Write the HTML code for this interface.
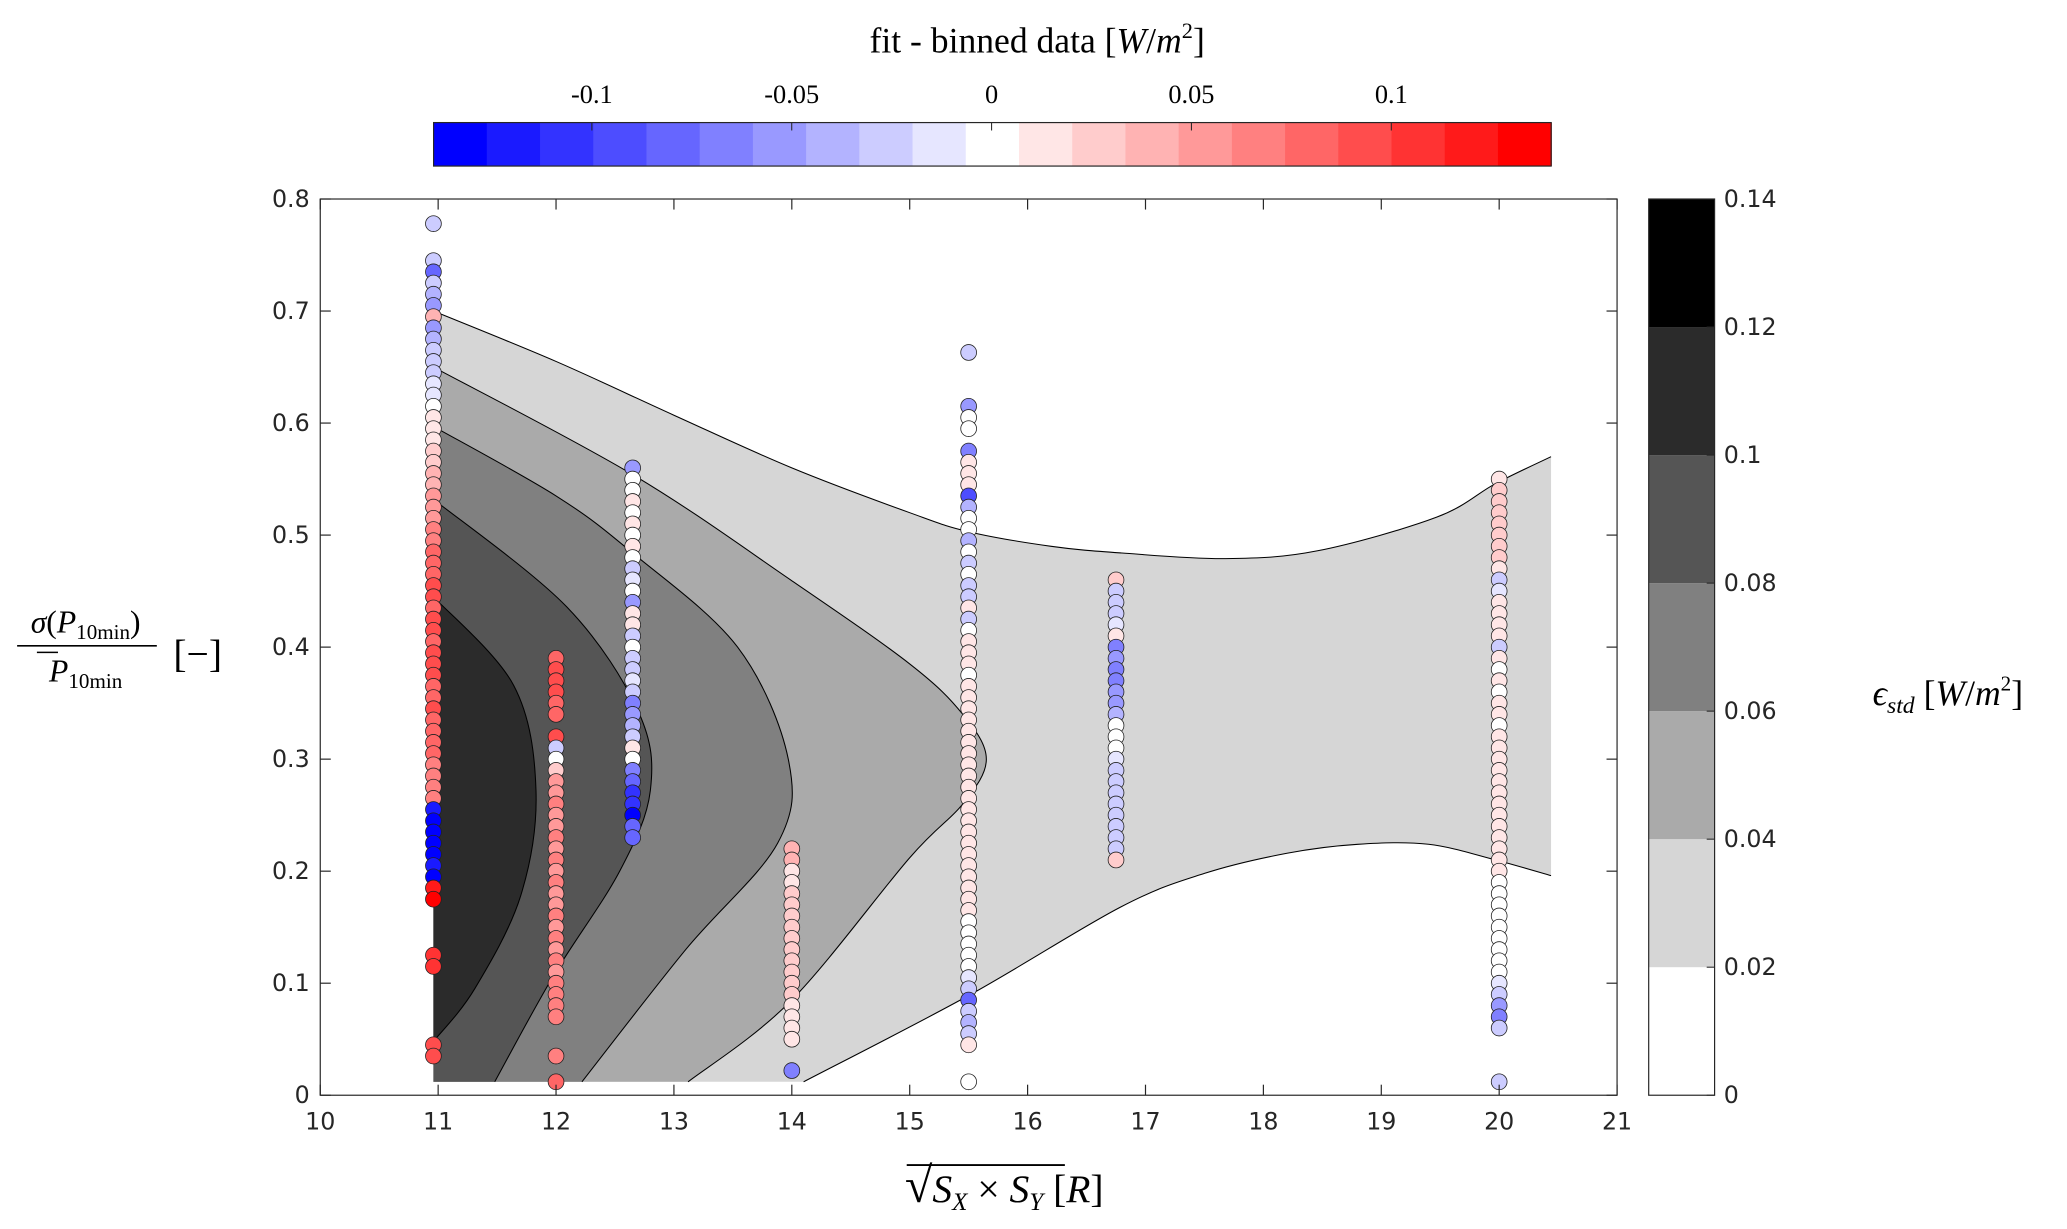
<!DOCTYPE html>
<html><head><meta charset="utf-8"><style>
html,body{margin:0;padding:0;background:#fff;}
svg{display:block;}
.tk{font-family:"DejaVu Sans","Liberation Sans",sans-serif;font-size:18px;fill:#262626;}
.mt{font-family:"Liberation Serif",serif;fill:#000;}
</style></head><body>
<svg id="chart" width="2067" height="1229" viewBox="0 0 1568.4 932.5" preserveAspectRatio="none" xmlns="http://www.w3.org/2000/svg">
<g id="contours"></g>
<g id="dots"></g>
<g id="axes"></g>
<g id="cbtop"></g>
<g id="cbright"></g>
<text class="mt" x="787" y="40" font-size="27" text-anchor="middle">fit - binned data [<tspan font-style="italic">W</tspan>/<tspan font-style="italic">m</tspan><tspan font-size="17" dy="-11">2</tspan><tspan dy="11">]</tspan></text>
<g class="mt">
<text x="65" y="480" font-size="24" text-anchor="middle"><tspan font-style="italic">σ</tspan>(<tspan font-style="italic">P</tspan><tspan font-size="16" dy="5">10min</tspan><tspan dy="-5">)</tspan></text>
<line x1="13" y1="490" x2="119" y2="490" stroke="#000" stroke-width="1.3"/>
<text x="65" y="517" font-size="24" text-anchor="middle"><tspan font-style="italic">P</tspan><tspan font-size="16" dy="5">10min</tspan></text>
<line x1="28" y1="495" x2="44" y2="495" stroke="#000" stroke-width="1.2"/>
<text x="150" y="506" font-size="30" text-anchor="middle">[−]</text>
</g>
<text class="mt" x="762" y="912" font-size="30" text-anchor="middle"><tspan font-size="38">√</tspan><tspan font-style="italic">S</tspan><tspan font-size="19" font-style="italic" dy="6">X</tspan><tspan dy="-6"> × </tspan><tspan font-style="italic">S</tspan><tspan font-size="19" font-style="italic" dy="6">Y</tspan><tspan dy="-6"> [</tspan><tspan font-style="italic">R</tspan>]</text>
<line x1="688" y1="884" x2="808" y2="884" stroke="#000" stroke-width="1.4"/>
<text class="mt" x="1478" y="535" font-size="27" text-anchor="middle"><tspan font-style="italic">ϵ</tspan><tspan font-size="18" font-style="italic" dy="6">std</tspan><tspan dy="-6"> [</tspan><tspan font-style="italic">W</tspan>/<tspan font-style="italic">m</tspan><tspan font-size="16" dy="-11">2</tspan><tspan dy="11">]</tspan></text>
</svg>
<script>
const xTicks=[10,11,12,13,14,15,16,17,18,19,20,21];
const yTicks=[0,0.1,0.2,0.3,0.4,0.5,0.6,0.7,0.8];
const cbTopTicks=[-0.1,-0.05,0,0.05,0.1];
const cbTopTickLabels=["-0.1","-0.05","0","0.05","0.1"];
const cbRightTicks=[0,0.02,0.04,0.06,0.08,0.1,0.12,0.14];
const cbRightTickLabels=["0","0.02","0.04","0.06","0.08","0.1","0.12","0.14"];
const levelColors=["#ffffff","#d6d6d6","#aaaaaa","#808080","#555555","#2b2b2b","#000000"];
const c1Top=[[10.96,0.70],[12,0.655],[13,0.607],[14,0.56],[15,0.52],[15.5,0.503],[16.2,0.49],[16.8,0.484],[17.68,0.479],[18.46,0.486],[19.47,0.516],[19.97,0.546],[20.44,0.57]];
const c1Bot=[[20.44,0.196],[19.97,0.21],[19.4,0.224],[18.8,0.224],[18.2,0.216],[17.5,0.198],[16.79,0.168],[15.5,0.089],[14.1,0.012]];
const c2=[[10.96,0.65],[12.65,0.554],[13.99,0.46],[15.0,0.385],[15.45,0.34],[15.65,0.30],[15.45,0.26],[15.0,0.212],[13.99,0.084],[13.12,0.012]];
const c3=[[10.96,0.597],[12.0,0.535],[12.65,0.484],[13.54,0.40],[13.97,0.30],[13.88,0.225],[13.1,0.13],[12.22,0.012]];
const c4=[[10.96,0.532],[12.09,0.436],[12.7,0.342],[12.8,0.272],[12.54,0.20],[11.98,0.107],[11.48,0.012]];
const c5=[[10.96,0.445],[11.64,0.366],[11.83,0.272],[11.7,0.178],[11.31,0.095],[10.96,0.048]];
const colX=[10.96,12.0,12.65,14.0,15.5,16.75,20.0];
const colY=[
[0.778,0.745,0.735,0.725,0.715,0.705,0.695,0.685,0.675,0.665,0.655,0.645,0.635,0.625,0.615,0.605,0.595,0.585,0.575,0.565,0.555,0.545,0.535,0.525,0.515,0.505,0.495,0.485,0.475,0.465,0.455,0.445,0.435,0.425,0.415,0.405,0.395,0.385,0.375,0.365,0.355,0.345,0.335,0.325,0.315,0.305,0.295,0.285,0.275,0.265,0.255,0.245,0.235,0.225,0.215,0.205,0.195,0.185,0.175,0.125,0.115,0.045,0.035],
[0.39,0.38,0.37,0.36,0.35,0.34,0.32,0.31,0.30,0.29,0.28,0.27,0.26,0.25,0.24,0.23,0.22,0.21,0.20,0.19,0.18,0.17,0.16,0.15,0.14,0.13,0.12,0.11,0.10,0.09,0.08,0.07,0.035,0.012],
[0.56,0.55,0.54,0.53,0.52,0.51,0.50,0.49,0.48,0.47,0.46,0.45,0.44,0.43,0.42,0.41,0.40,0.39,0.38,0.37,0.36,0.35,0.34,0.33,0.32,0.31,0.30,0.29,0.28,0.27,0.26,0.25,0.24,0.23],
[0.22,0.21,0.20,0.19,0.18,0.17,0.16,0.15,0.14,0.13,0.12,0.11,0.10,0.09,0.08,0.07,0.06,0.05,0.022],
[0.663,0.615,0.605,0.595,0.575,0.565,0.555,0.545,0.535,0.525,0.515,0.505,0.495,0.485,0.475,0.465,0.455,0.445,0.435,0.425,0.415,0.405,0.395,0.385,0.375,0.365,0.355,0.345,0.335,0.325,0.315,0.305,0.295,0.285,0.275,0.265,0.255,0.245,0.235,0.225,0.215,0.205,0.195,0.185,0.175,0.165,0.155,0.145,0.135,0.125,0.115,0.105,0.095,0.085,0.075,0.065,0.055,0.045,0.012],
[0.46,0.45,0.44,0.43,0.42,0.41,0.40,0.39,0.38,0.37,0.36,0.35,0.34,0.33,0.32,0.31,0.30,0.29,0.28,0.27,0.26,0.25,0.24,0.23,0.22,0.21],
[0.55,0.54,0.53,0.52,0.51,0.50,0.49,0.48,0.47,0.46,0.45,0.44,0.43,0.42,0.41,0.40,0.39,0.38,0.37,0.36,0.35,0.34,0.33,0.32,0.31,0.30,0.29,0.28,0.27,0.26,0.25,0.24,0.23,0.22,0.21,0.20,0.19,0.18,0.17,0.16,0.15,0.14,0.13,0.12,0.11,0.10,0.09,0.08,0.07,0.06,0.012]
];
const colV=[
[-0.02,-0.02,-0.08,-0.02,-0.04,-0.05,0.04,-0.05,-0.04,-0.03,-0.02,-0.02,-0.01,-0.01,0,0.01,0.02,0.02,0.03,0.03,0.04,0.04,0.05,0.06,0.06,0.07,0.07,0.08,0.08,0.08,0.09,0.09,0.08,0.1,0.09,0.08,0.09,0.1,0.09,0.08,0.08,0.09,0.08,0.08,0.08,0.08,0.07,0.07,0.07,0.07,-0.12,-0.13,-0.13,-0.13,-0.13,-0.12,-0.13,0.12,0.13,0.11,0.11,0.09,0.09],
[0.08,0.09,0.09,0.09,0.08,0.08,0.1,-0.02,0,0.03,0.05,0.06,0.07,0.06,0.06,0.07,0.06,0.07,0.06,0.07,0.06,0.06,0.07,0.06,0.07,0.06,0.07,0.06,0.07,0.07,0.07,0.07,0.07,0.08],
[-0.05,0,0,0.01,0,0.01,0,0.02,0,-0.02,-0.01,0,-0.05,0.01,0.01,-0.02,0,-0.02,-0.02,-0.01,-0.02,-0.06,-0.05,-0.04,-0.03,0.01,0,-0.07,-0.08,-0.1,-0.11,-0.13,-0.08,-0.08],
[0.04,0.04,0.01,0.02,0.03,0.03,0.03,0.03,0.03,0.03,0.03,0.03,0.03,0.03,0.02,0.02,0.02,0.02,-0.06],
[-0.02,-0.05,0,0,-0.06,0.01,0.02,0.01,-0.09,-0.04,0,0,-0.04,0,-0.03,0,-0.03,-0.02,0.01,-0.02,0,0.01,0.01,0.01,0,0.01,0.01,0.01,0.01,0.01,0.01,0.01,0.01,0.01,0.01,0.01,0.01,0.01,0.01,0.01,0.01,0.01,0.01,0.01,0.01,0.01,0,0,0,0,0,-0.01,-0.02,-0.08,-0.03,-0.04,-0.02,0.02,0],
[0.03,-0.02,-0.02,-0.02,-0.01,0.02,-0.07,-0.05,-0.06,-0.07,-0.05,-0.05,-0.04,0,0,0,-0.01,-0.02,-0.02,-0.03,-0.03,-0.02,-0.03,-0.02,-0.03,0.03],
[0.02,0.03,0.03,0.03,0.03,0.03,0.03,0.03,0.02,-0.03,-0.01,0.01,0.01,0.01,0.01,-0.02,0.01,0,0.01,0,0.01,0.01,0,0.01,0.01,0.01,0.02,0.01,0.01,0.01,0.01,0.01,0.01,0.02,0.01,0.01,0,0,0,0,0,0,0,0,0,-0.01,-0.02,-0.05,-0.06,-0.03,-0.03]
];
const NS="http://www.w3.org/2000/svg";
const X0=243,X1=1227,Y0=831,Y1=151;
const xs=v=>X0+(v-10)/(21-10)*(X1-X0);
const ys=v=>Y0-(v-0)/(0.8-0)*(Y0-Y1);
const cbL=329,cbR=1177,cbMin=-0.1396,cbMax=0.14;
const cx=v=>cbL+(v-cbMin)/(cbMax-cbMin)*(cbR-cbL);
const ry=v=>831-v/0.14*680;
function mk(tag,attrs,parent){const e=document.createElementNS(NS,tag);for(const k in attrs)e.setAttribute(k,attrs[k]);parent.appendChild(e);return e;}
function bandColor(i){
  if(i<10){const c=Math.round(255*i/10);return `rgb(${c},${c},255)`;}
  if(i===10)return "#fff";
  const c=Math.round(255*(20-i)/10);return `rgb(255,${c},${c})`;
}
function valColor(v){let i=Math.floor((v-cbMin)/((cbMax-cbMin)/21));i=Math.max(0,Math.min(20,i));return bandColor(i);}
function segs(pts){
  const p=pts.map(a=>[xs(a[0]),ys(a[1])]);
  let d='';
  for(let i=0;i<p.length-1;i++){
    const a=p[i-1]||p[i],b=p[i],c=p[i+1],e=p[i+2]||c;
    const c1=[b[0]+(c[0]-a[0])/6,b[1]+(c[1]-a[1])/6],c2=[c[0]-(e[0]-b[0])/6,c[1]-(e[1]-b[1])/6];
    d+=` C${c1[0]},${c1[1]} ${c2[0]},${c2[1]} ${c[0]},${c[1]}`;
  }
  return d;
}
function smooth(pts){return `${xs(pts[0][0])},${ys(pts[0][1])}`+segs(pts);}
const cg=document.getElementById('contours');
const L=xs(10.96),B=ys(0.012);
let p=mk('path',{d:`M${smooth(c1Top)} L${xs(20.44)},${ys(0.196)}${segs(c1Bot)} L${L},${B} Z`,fill:levelColors[1],stroke:"none"},cg);


mk('path',{d:'M'+smooth(c1Top),fill:'none',stroke:'#000','stroke-width':0.8},cg);
mk('path',{d:'M'+smooth(c1Bot),fill:'none',stroke:'#000','stroke-width':0.8},cg);
const inner=[[c2,2],[c3,3],[c4,4],[c5,5]];
inner.forEach(([c,k])=>{
  const last=c[c.length-1];
  const close= last[1]>0.02 ? `L${L},${ys(last[1])} Z` : `L${L},${B} Z`;
  const e=mk('path',{d:`M${smooth(c)} ${close}`,fill:levelColors[k],stroke:'none'},cg);
  
  
  mk('path',{d:'M'+smooth(c),fill:'none',stroke:'#000','stroke-width':0.8},cg);
});
const dg=document.getElementById('dots');
colX.forEach((x,ci)=>{
  colY[ci].forEach((y,j)=>{
    const c=mk('circle',{cx:xs(x),cy:ys(y),r:6,fill:valColor(colV[ci][j]),stroke:'#222','stroke-width':0.6},dg);
    
    
  });
});
const ag=document.getElementById('axes');
mk('rect',{x:X0,y:Y1,width:X1-X0,height:Y0-Y1,fill:'none',stroke:'#262626','stroke-width':0.9},ag);
xTicks.forEach(v=>{
  mk('line',{x1:xs(v),y1:Y0,x2:xs(v),y2:Y0-8,stroke:'#262626','stroke-width':0.9},ag);
  mk('line',{x1:xs(v),y1:Y1,x2:xs(v),y2:Y1+8,stroke:'#262626','stroke-width':0.9},ag);
  const t=mk('text',{x:xs(v),y:Y0+26,class:'tk','text-anchor':'middle'},ag);t.textContent=v;
  
  
});
yTicks.forEach(v=>{
  mk('line',{x1:X0,y1:ys(v),x2:X0+8,y2:ys(v),stroke:'#262626','stroke-width':0.9},ag);
  mk('line',{x1:X1,y1:ys(v),x2:X1-8,y2:ys(v),stroke:'#262626','stroke-width':0.9},ag);
  const t=mk('text',{x:X0-8,y:ys(v)+6,class:'tk','text-anchor':'end'},ag);t.textContent=(v===0?'0':v.toFixed(1));
  
  
});
const tg=document.getElementById('cbtop');
const bw=(cbR-cbL)/21;
for(let i=0;i<21;i++){mk('rect',{x:cbL+i*bw,y:93,width:bw+0.5,height:33,fill:bandColor(i)},tg);}
mk('rect',{x:cbL,y:93,width:cbR-cbL,height:33,fill:'none',stroke:'#262626','stroke-width':0.9},tg);
cbTopTicks.forEach((v,i)=>{
  mk('line',{x1:cx(v),y1:93,x2:cx(v),y2:99,stroke:'#262626','stroke-width':0.8},tg);
  const t=mk('text',{x:cx(v),y:78,class:'mt','font-size':20,'text-anchor':'middle'},tg);t.textContent=cbTopTickLabels[i];
  
  
});
const rg=document.getElementById('cbright');
const rcols=["#ffffff","#d6d6d6","#aaaaaa","#808080","#555555","#2b2b2b","#000000"];
const rl=1251,rw=50;
mk('rect',{x:rl,y:ry(0.02),width:rw,height:ry(0)-ry(0.02),fill:rcols[0]},rg);
mk('rect',{x:rl,y:ry(0.04),width:rw,height:ry(0.02)-ry(0.04),fill:rcols[1]},rg);
mk('rect',{x:rl,y:ry(0.06),width:rw,height:ry(0.04)-ry(0.06),fill:rcols[2]},rg);
mk('rect',{x:rl,y:ry(0.08),width:rw,height:ry(0.06)-ry(0.08),fill:rcols[3]},rg);
mk('rect',{x:rl,y:ry(0.1),width:rw,height:ry(0.08)-ry(0.1),fill:rcols[4]},rg);
mk('rect',{x:rl,y:ry(0.12),width:rw,height:ry(0.1)-ry(0.12),fill:rcols[5]},rg);
mk('rect',{x:rl,y:ry(0.14),width:rw,height:ry(0.12)-ry(0.14),fill:rcols[6]},rg);
mk('rect',{x:rl,y:ry(0.14),width:rw,height:680,fill:'none',stroke:'#262626','stroke-width':0.9},rg);
cbRightTicks.forEach((v,i)=>{
  mk('line',{x1:rl+rw,y1:ry(v),x2:rl+rw-6,y2:ry(v),stroke:'#262626','stroke-width':0.8},rg);
  const t=mk('text',{x:rl+rw+7,y:ry(v)+6,class:'tk'},rg);t.textContent=cbRightTickLabels[i];
  
  
});
</script>
</body></html>
